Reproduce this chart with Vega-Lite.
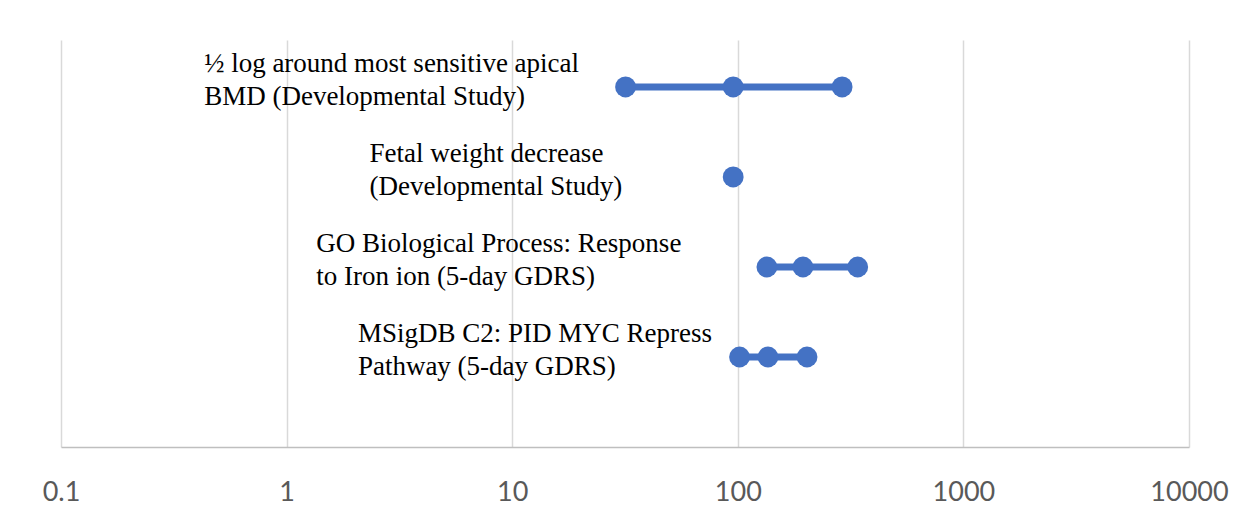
{
  "$schema": "https://vega.github.io/schema/vega-lite/v6.json",
  "width": 1128,
  "height": 407,
  "autosize": "none",
  "padding": {"left": 61, "top": 40, "right": 59, "bottom": 71},
  "background": "white",
  "config": {"view": {"stroke": null}},
  "datasets": {
    "points": [
      {"row": 4, "value": 31.8},
      {"row": 4, "value": 95.4},
      {"row": 4, "value": 290},
      {"row": 3, "value": 95.4},
      {"row": 2, "value": 134.6},
      {"row": 2, "value": 194.5},
      {"row": 2, "value": 340},
      {"row": 1, "value": 101.8},
      {"row": 1, "value": 136.1},
      {"row": 1, "value": 202.7}
    ],
    "labels": [
      {"row": 4, "start": 0.431, "text": "½ log around most sensitive apical\nBMD (Developmental Study)"},
      {"row": 3, "start": 2.33, "text": "Fetal weight decrease\n(Developmental Study)"},
      {"row": 2, "start": 1.352, "text": "GO Biological Process: Response\nto Iron ion (5-day GDRS)"},
      {"row": 1, "start": 2.07, "text": "MSigDB C2: PID MYC Repress\nPathway (5-day GDRS)"}
    ]
  },
  "layer": [
    {
      "data": {"name": "points"},
      "mark": {"type": "line", "color": "#4472C4", "strokeWidth": 7},
      "encoding": {
        "x": {
          "field": "value",
          "type": "quantitative",
          "scale": {"type": "log", "domain": [0.1, 10000], "nice": false},
          "axis": {
            "title": null,
            "values": [0.1, 1, 10, 100, 1000, 10000],
            "format": "~g",
            "grid": true,
            "gridColor": "#d9d9d9",
            "gridWidth": 1.5,
            "domainColor": "#bfbfbf",
            "domainWidth": 1.5,
            "ticks": false,
            "labelFont": "Lato",
            "labelFontSize": 27,
            "labelColor": "#595959",
            "labelBaseline": "alphabetic",
            "labelPadding": 53,
            "labelFlush": false,
            "labelOverlap": false
          }
        },
        "y": {
          "field": "row",
          "type": "quantitative",
          "scale": {"domain": [0, 4.522], "nice": false, "zero": false},
          "axis": null
        },
        "detail": {"field": "row", "type": "nominal"}
      }
    },
    {
      "data": {"name": "points"},
      "mark": {"type": "circle", "color": "#4472C4", "opacity": 1, "size": 434},
      "encoding": {
        "x": {"field": "value", "type": "quantitative"},
        "y": {"field": "row", "type": "quantitative"}
      }
    },
    {
      "data": {"name": "labels"},
      "mark": {
        "type": "text",
        "align": "left",
        "baseline": "alphabetic",
        "dy": -15,
        "font": "Liberation Serif",
        "fontSize": 27,
        "lineHeight": 33,
        "lineBreak": "\n",
        "color": "#000000"
      },
      "encoding": {
        "x": {"field": "start", "type": "quantitative"},
        "y": {"field": "row", "type": "quantitative"},
        "text": {"field": "text", "type": "nominal"}
      }
    }
  ]
}
